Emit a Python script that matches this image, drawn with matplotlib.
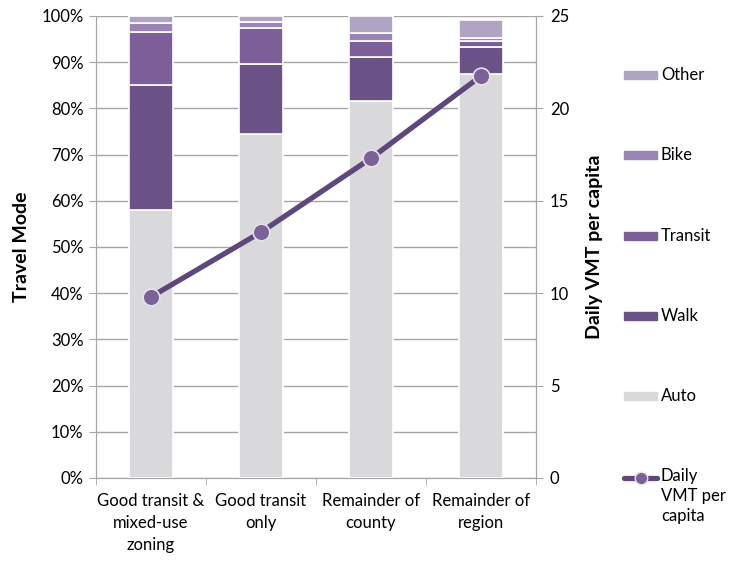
import numpy as np
import matplotlib.pyplot as plt
from matplotlib.patches import Rectangle
from matplotlib.lines import Line2D

plt.rcParams['font.family'] = ['Lato', 'DejaVu Sans']

categories = ["Good transit &\nmixed-use\nzoning", "Good transit\nonly",
              "Remainder of\ncounty", "Remainder of\nregion"]
modes = ["Auto", "Walk", "Transit", "Bike", "Other"]
auto = [58.0, 74.5, 81.6, 87.4]
walk = [27.1, 15.1, 9.5, 5.9]
transit = [11.4, 7.8, 3.5, 1.2]
bike = [2.0, 1.4, 1.7, 0.8]
other = [1.5, 1.2, 3.7, 3.9]
vmt = [9.8, 13.3, 17.3, 21.75]

colors = ["#D9D9DB", "#6A5287", "#7C5F98", "#9A84B5", "#B0A3C3"]
line_color = "#5E477C"
grid_color = "#A6A6A6"

fig = plt.figure(figsize=(7.31, 5.61), dpi=100)
ax = fig.add_axes([0.1313, 0.148, 0.6019, 0.8235])
ax2 = ax.twinx()

x = np.arange(len(categories))
bottom = np.zeros(len(categories))
for vals, col in zip([auto, walk, transit, bike, other], colors):
    ax.bar(x, vals, width=0.4, bottom=bottom, color=col, edgecolor="white",
           linewidth=1.2, zorder=3)
    bottom += np.array(vals)

ax2.plot(x, vmt, color=line_color, linewidth=3.8, marker="o", markersize=12,
         markerfacecolor="#7B6197", markeredgecolor="#E6E0EE", markeredgewidth=1.2,
         zorder=5)

ax.set_xlim(-0.5, len(categories) - 0.5)
ax.set_ylim(0, 100)
ax.set_yticks(np.arange(0, 101, 10))
ax.set_yticklabels([f"{v}%" for v in range(0, 101, 10)])
ax.yaxis.grid(True, color=grid_color, linewidth=1, zorder=0)
ax.set_axisbelow(True)
ax2.set_ylim(0, 25)
ax2.set_yticks(np.arange(0, 26, 5))

ax.set_xticks(x)
ax.set_xticklabels(categories, fontsize=12, linespacing=1.45)
ax.tick_params(axis="x", length=0, pad=11)
ax.set_xticks(np.arange(-0.5, len(categories), 1), minor=True)
ax.tick_params(axis="x", which="minor", length=5, color=grid_color)
ax.tick_params(axis="y", length=5, color=grid_color, labelsize=12, pad=4)
ax2.tick_params(axis="y", length=5, color=grid_color, labelsize=12, pad=5)

for a in (ax, ax2):
    for s in a.spines.values():
        s.set_color(grid_color)
    a.spines["top"].set_visible(False)

ax.set_ylabel("Travel Mode", fontsize=14, fontweight="bold", labelpad=8)
ax2.set_ylabel("Daily VMT per capita", fontsize=14, fontweight="bold", labelpad=12)

# legend drawn on the right side
W, H = 731, 561
leg_y = [396, 316, 236, 155, 75]
for name, col, yy in zip(modes, colors, leg_y):
    fig.add_artist(Rectangle((624 / W, 1 - (yy + 4) / H), 33 / W, 8 / H,
                             transform=fig.transFigure, color=col))
    fig.text(661 / W, 1 - yy / H, name, fontsize=12, va="center", ha="left")
fig.add_artist(Line2D([624 / W, 657 / W], [1 - 478 / H, 1 - 478 / H],
                      transform=fig.transFigure, color=line_color, linewidth=3.8,
                      solid_capstyle="round"))
fig.add_artist(Line2D([640.5 / W], [1 - 478 / H], transform=fig.transFigure,
                      marker="o", markersize=9, color=line_color,
                      markerfacecolor="#7B6197", markeredgecolor="#E6E0EE"))
fig.text(661 / W, 1 - 468 / H, "Daily\nVMT per\ncapita", fontsize=12, va="top",
         ha="left", linespacing=1.3)

fig.savefig("out.png", dpi=100)
